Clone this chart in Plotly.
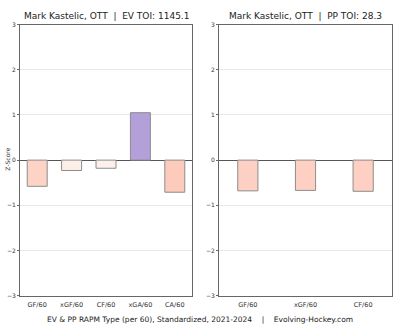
import plotly.graph_objects as go

ev_cats = ["GF/60", "xGF/60", "CF/60", "xGA/60", "CA/60"]
ev_vals = [-0.58, -0.23, -0.18, 1.05, -0.71]
ev_colors = ["#fdd3c6", "#fdeee8", "#fdf0eb", "#b3a0d8", "#fdcbbb"]

pp_cats = ["GF/60", "xGF/60", "CF/60"]
pp_vals = [-0.68, -0.67, -0.69]
pp_colors = ["#fdd0c3", "#fdd0c3", "#fdd0c3"]

yticks = [-3, -2, -1, 0, 1, 2, 3]

FONT = "DejaVu Sans"
fig = go.Figure()
fig.add_trace(go.Bar(x=ev_cats, y=ev_vals, marker=dict(color=ev_colors, line=dict(color="#8c8c8c", width=1)),
                     width=0.58, xaxis="x", yaxis="y", showlegend=False))
fig.add_trace(go.Bar(x=pp_cats, y=pp_vals, marker=dict(color=pp_colors, line=dict(color="#8c8c8c", width=1)),
                     width=0.35, xaxis="x2", yaxis="y2", showlegend=False))

ydom = [1 - 298 / 330, 1 - 21 / 330]
common_y = dict(range=[-3, 3], tickvals=yticks, showgrid=True, gridcolor="#e8e8e8", gridwidth=1,
                zeroline=True, zerolinecolor="#555555", zerolinewidth=1,
                showline=True, linecolor="#666666", linewidth=1, mirror=True,
                ticks="outside", ticklen=2, tickcolor="#666666",
                tickfont=dict(family=FONT, size=6, color="#333333"), domain=ydom)
common_x = dict(showline=True, linecolor="#666666", linewidth=1, mirror=True, ticks="",
                ticklabelstandoff=3,
                tickfont=dict(family=FONT, size=6.5, color="#333333"), showgrid=False)

fig.update_layout(
    width=400, height=330, margin=dict(l=0, r=0, t=0, b=0),
    plot_bgcolor="white", paper_bgcolor="white",
    xaxis=dict(domain=[20 / 400, 192 / 400], anchor="y", **common_x),
    yaxis=dict(anchor="x", **common_y),
    xaxis2=dict(domain=[219 / 400, 392 / 400], anchor="y2", **common_x),
    yaxis2=dict(anchor="x2", **common_y),
    bargap=0.4,
    annotations=[
        dict(text="Mark Kastelic, OTT  |  EV TOI: 1145.1", x=106 / 400, y=1 - 12 / 330, xref="paper", yref="paper",
             showarrow=False, font=dict(family=FONT, size=9, color="#222222"), xanchor="center", yanchor="middle"),
        dict(text="Mark Kastelic, OTT  |  PP TOI: 28.3", x=305 / 400, y=1 - 12 / 330, xref="paper", yref="paper",
             showarrow=False, font=dict(family=FONT, size=9, color="#222222"), xanchor="center", yanchor="middle"),
        dict(text="Z-Score", x=8 / 400, y=1 - 159 / 330, xref="paper", yref="paper", textangle=-90,
             showarrow=False, font=dict(family=FONT, size=6, color="#333333"), xanchor="center", yanchor="middle"),
        dict(text="EV & PP RAPM Type (per 60), Standardized, 2021-2024    |    Evolving-Hockey.com",
             x=200 / 400, y=1 - 322 / 330, xref="paper", yref="paper",
             showarrow=False, font=dict(family=FONT, size=7.5, color="#222222"), xanchor="center", yanchor="middle"),
    ],
)

fig.write_html("out.html")
